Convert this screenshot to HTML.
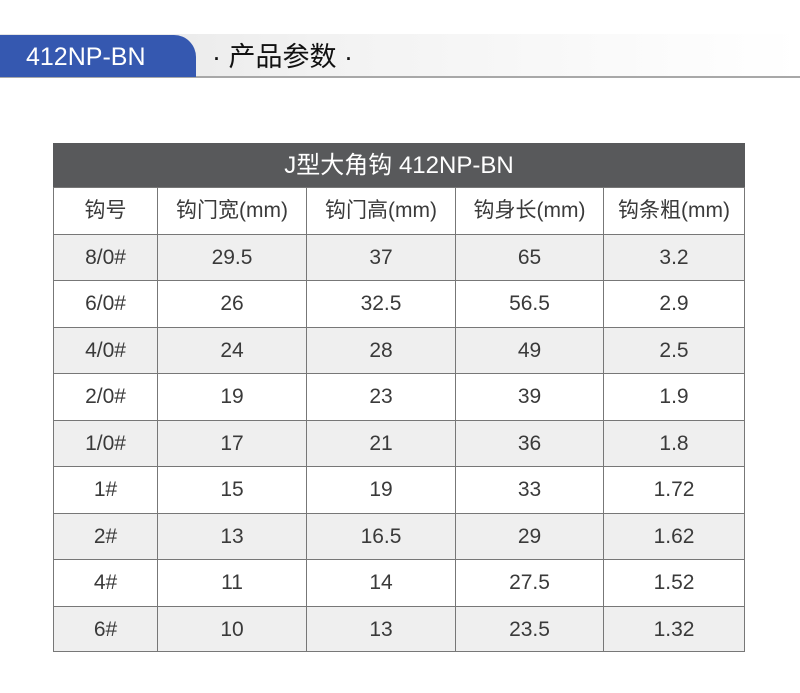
<!DOCTYPE html>
<html><head><meta charset="utf-8"><style>
body{margin:0;width:800px;height:693px;background:#fff;position:relative;overflow:hidden;font-family:"Liberation Sans","Noto Sans CJK SC",sans-serif;}
.bar{position:absolute;left:0;top:34px;width:800px;height:42px;background:linear-gradient(to right,#e4e4e4,#f2f2f2 40%,#fff);border-bottom:2px solid #a8a8a8;}
.tab{position:absolute;left:0;top:35px;width:196px;height:42px;background:#3558b0;border-top-right-radius:22px;color:#fff;font-size:25px;line-height:44px;padding-left:26px;box-sizing:border-box;}
.ttl{position:absolute;left:212px;top:35px;font-size:27px;line-height:44px;color:#111;}
.tb{position:absolute;left:53px;top:143px;width:692px;}
.head{height:44px;background:#58595b;color:#fff;font-size:24px;line-height:46px;text-align:center;}
.row{display:flex;height:46.5px;border-top:1.5px solid #777;box-sizing:border-box;}
.row div{border-left:1.5px solid #777;text-align:center;font-size:21px;color:#3a3a3a;line-height:45px;box-sizing:border-box;}
.row div:last-child{border-right:1.5px solid #777;}
.g{background:#efefef;}
.c1{width:104px}.c2{width:149px}.c3{width:149px}.c4{width:148px}.c5{width:142px}
</style></head><body>
<div class="bar"></div>
<div class="tab">412NP-BN</div>
<div class="ttl">· 产品参数 ·</div>
<div class="tb">
<div class="head">J型大角钩 412NP-BN</div>
<div class="row"><div class="c1">钩号</div><div class="c2">钩门宽(mm)</div><div class="c3">钩门高(mm)</div><div class="c4">钩身长(mm)</div><div class="c5">钩条粗(mm)</div></div>
<div class="row g"><div class="c1">8/0#</div><div class="c2">29.5</div><div class="c3">37</div><div class="c4">65</div><div class="c5">3.2</div></div>
<div class="row"><div class="c1">6/0#</div><div class="c2">26</div><div class="c3">32.5</div><div class="c4">56.5</div><div class="c5">2.9</div></div>
<div class="row g"><div class="c1">4/0#</div><div class="c2">24</div><div class="c3">28</div><div class="c4">49</div><div class="c5">2.5</div></div>
<div class="row"><div class="c1">2/0#</div><div class="c2">19</div><div class="c3">23</div><div class="c4">39</div><div class="c5">1.9</div></div>
<div class="row g"><div class="c1">1/0#</div><div class="c2">17</div><div class="c3">21</div><div class="c4">36</div><div class="c5">1.8</div></div>
<div class="row"><div class="c1">1#</div><div class="c2">15</div><div class="c3">19</div><div class="c4">33</div><div class="c5">1.72</div></div>
<div class="row g"><div class="c1">2#</div><div class="c2">13</div><div class="c3">16.5</div><div class="c4">29</div><div class="c5">1.62</div></div>
<div class="row"><div class="c1">4#</div><div class="c2">11</div><div class="c3">14</div><div class="c4">27.5</div><div class="c5">1.52</div></div>
<div class="row g" style="border-bottom:1.5px solid #777"><div class="c1">6#</div><div class="c2">10</div><div class="c3">13</div><div class="c4">23.5</div><div class="c5">1.32</div></div>
</div>
</body></html>
